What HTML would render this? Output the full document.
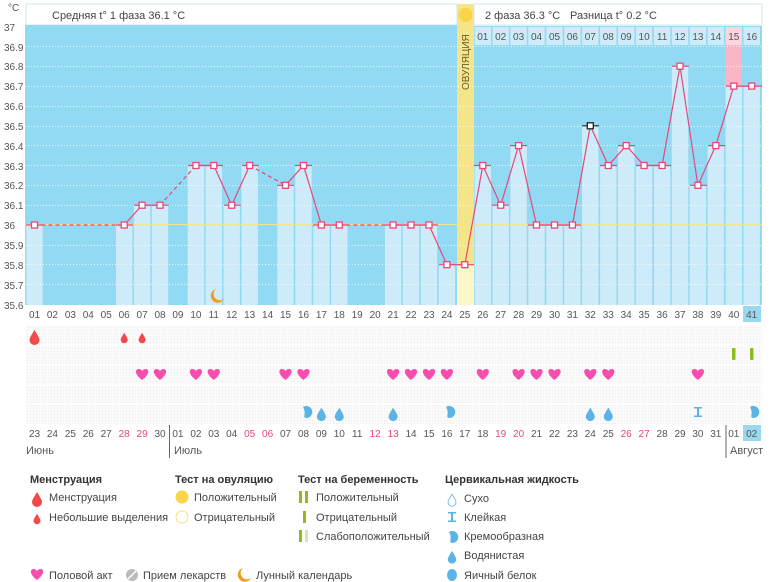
<!DOCTYPE html>
<html><head><meta charset="utf-8"><style>
body{margin:0;background:#fff;width:770px;height:582px;overflow:hidden}
svg{display:block;font-family:"Liberation Sans","DejaVu Sans",sans-serif}
.yl{font-size:10px;fill:#555}
.dn{font-size:10px;fill:#555;text-anchor:middle}
.rd{fill:#e8477a}
.lh{font-size:11px;font-weight:bold;fill:#333}
.li{font-size:11px;fill:#444}
</style></head><body>
<svg width="770" height="582" viewBox="0 0 770 582">
<defs>
<pattern id="dots" width="3" height="3" patternUnits="userSpaceOnUse"><rect width="3" height="3" fill="#fafafa"/><rect width="1" height="1" fill="#ececec"/></pattern>
<path id="drop" d="M0,-6 C3,-1 5,2 5,4 A5,5 0 0 1 -5,4 C-5,2 -3,-1 0,-6Z"/>
<path id="heart" d="M0,5 C-8,-1 -7,-6 -3.5,-6 C-1.5,-6 0,-4.5 0,-3.5 C0,-4.5 1.5,-6 3.5,-6 C7,-6 8,-1 0,5Z"/>
</defs>
<!-- y axis -->
<text x="8" y="11" class="yl" font-size="11">°C</text>
<g class="yl">
<text x="4" y="31">37</text><text x="4" y="51">36.9</text><text x="4" y="70">36.8</text><text x="4" y="90">36.7</text><text x="4" y="110">36.6</text><text x="4" y="130">36.5</text><text x="4" y="150">36.4</text><text x="4" y="170">36.3</text><text x="4" y="189">36.2</text><text x="4" y="209">36.1</text><text x="4" y="229">36</text><text x="4" y="249">35.9</text><text x="4" y="269">35.8</text><text x="4" y="289">35.7</text><text x="4" y="309">35.6</text>
</g>
<!-- headers -->
<rect x="26" y="4" width="431" height="21" fill="#fff" stroke="#cde9f5"/>
<text x="52" y="19" font-size="11" fill="#444">Средняя t° 1 фаза 36.1 °C</text>
<rect x="474" y="4" width="288" height="21" fill="#fff" stroke="#cde9f5"/>
<text x="485" y="19" font-size="11" fill="#444">2 фаза 36.3 °C</text>
<text x="570" y="19" font-size="11" fill="#444">Разница t° 0.2 °C</text>
<!-- chart bg -->
<rect x="25" y="25" width="432" height="280" fill="#92d9f3"/>
<rect x="474" y="26" width="288" height="279" fill="#92d9f3"/>
<!-- light bars -->
<g fill="#cdebf9">
<rect x="26.3" y="225" width="16.4" height="80"/>
<rect x="116" y="225" width="16.4" height="80"/>
<rect x="133.9" y="205" width="16.4" height="100"/>
<rect x="151.8" y="205" width="16.4" height="100"/>
<rect x="187.7" y="165" width="16.4" height="140"/>
<rect x="205.6" y="165" width="16.4" height="140"/>
<rect x="223.5" y="205" width="16.4" height="100"/>
<rect x="241.5" y="165" width="16.4" height="140"/>
<rect x="277.3" y="185" width="16.4" height="120"/>
<rect x="295.3" y="165" width="16.4" height="140"/>
<rect x="313.2" y="225" width="16.4" height="80"/>
<rect x="331.1" y="225" width="16.4" height="80"/>
<rect x="384.9" y="225" width="16.4" height="80"/>
<rect x="402.8" y="225" width="16.4" height="80"/>
<rect x="420.8" y="225" width="16.4" height="80"/>
<rect x="438.7" y="265" width="16.4" height="40"/>
<rect x="474.6" y="165" width="16.4" height="140"/>
<rect x="492.5" y="205" width="16.4" height="100"/>
<rect x="510.4" y="145" width="16.4" height="160"/>
<rect x="528.3" y="225" width="16.4" height="80"/>
<rect x="546.3" y="225" width="16.4" height="80"/>
<rect x="564.2" y="225" width="16.4" height="80"/>
<rect x="582.1" y="125" width="16.4" height="180"/>
<rect x="600.1" y="165" width="16.4" height="140"/>
<rect x="618" y="145" width="16.4" height="160"/>
<rect x="635.9" y="165" width="16.4" height="140"/>
<rect x="653.9" y="165" width="16.4" height="140"/>
<rect x="671.8" y="66" width="16.4" height="239"/>
<rect x="689.7" y="185" width="16.4" height="120"/>
<rect x="707.6" y="145" width="16.4" height="160"/>
<rect x="725.6" y="86" width="16.4" height="219"/>
<rect x="743.5" y="86" width="16.4" height="219"/>
</g>
<rect x="725.6" y="45" width="16.4" height="41" fill="#f9b6c7"/>
<!-- right day header -->
<rect x="474" y="26" width="288" height="19" fill="#92d9f3"/>
<g fill="#cdebf9">
<rect x="474.6" y="27" width="16.4" height="18"/><rect x="492.5" y="27" width="16.4" height="18"/><rect x="510.4" y="27" width="16.4" height="18"/><rect x="528.3" y="27" width="16.4" height="18"/><rect x="546.3" y="27" width="16.4" height="18"/><rect x="564.2" y="27" width="16.4" height="18"/><rect x="582.1" y="27" width="16.4" height="18"/><rect x="600.1" y="27" width="16.4" height="18"/><rect x="618" y="27" width="16.4" height="18"/><rect x="635.9" y="27" width="16.4" height="18"/><rect x="653.9" y="27" width="16.4" height="18"/><rect x="671.8" y="27" width="16.4" height="18"/><rect x="689.7" y="27" width="16.4" height="18"/><rect x="707.6" y="27" width="16.4" height="18"/><rect x="743.5" y="27" width="16.4" height="18"/>
</g>
<rect x="725.6" y="27" width="16.4" height="18" fill="#fcd5de"/>
<g class="dn" font-size="9.5">
<text x="482.8" y="40">01</text><text x="500.7" y="40">02</text><text x="518.6" y="40">03</text><text x="536.5" y="40">04</text><text x="554.5" y="40">05</text><text x="572.4" y="40">06</text><text x="590.3" y="40">07</text><text x="608.3" y="40">08</text><text x="626.2" y="40">09</text><text x="644.1" y="40">10</text><text x="662.1" y="40">11</text><text x="680" y="40">12</text><text x="697.9" y="40">13</text><text x="715.8" y="40">14</text><text x="733.8" y="40">15</text><text x="751.7" y="40">16</text>
</g>
<!-- ovulation column -->
<rect x="457" y="4" width="17" height="301" fill="#f5e58a"/>
<rect x="457" y="265" width="17" height="40" fill="#fdf6c8"/>
<circle cx="465.5" cy="15" r="7" fill="#fbd44a"/>
<text transform="translate(469,90) rotate(-90)" font-size="10" fill="#6a5a2a">ОВУЛЯЦИЯ</text>
<!-- grid -->
<g stroke="#fff" stroke-width="1" stroke-dasharray="1,2" opacity="0.8">
<line x1="25" y1="46.5" x2="762" y2="46.5"/><line x1="25" y1="66.5" x2="762" y2="66.5"/><line x1="25" y1="86.5" x2="762" y2="86.5"/><line x1="25" y1="106.5" x2="762" y2="106.5"/><line x1="25" y1="126.5" x2="762" y2="126.5"/><line x1="25" y1="145.5" x2="762" y2="145.5"/><line x1="25" y1="165.5" x2="762" y2="165.5"/><line x1="25" y1="185.5" x2="762" y2="185.5"/><line x1="25" y1="205.5" x2="762" y2="205.5"/><line x1="25" y1="245.5" x2="762" y2="245.5"/><line x1="25" y1="264.5" x2="762" y2="264.5"/><line x1="25" y1="284.5" x2="762" y2="284.5"/>
</g>
<line x1="25" y1="224.5" x2="762" y2="224.5" stroke="#f5e58a" stroke-width="1.2"/>
<!-- temp lines -->
<g fill="none" stroke="#e8477a" stroke-width="1.2">
<polyline points="124.2,225 142.1,205.2 160,205.2"/>
<polyline points="195.9,165.5 213.8,165.5 231.7,205.2 249.7,165.5"/>
<polyline points="285.5,185.3 303.5,165.5 321.4,225 339.3,225"/>
<polyline points="393.1,225 411,225 429,225 446.9,264.7 464.8,264.7 482.8,165.5 500.7,205.2 518.6,145.6 536.5,225 554.5,225 572.4,225 590.3,125.8 608.3,165.5 626.2,145.6 644.1,165.5 662.1,165.5 680,66.2 697.9,185.3 715.8,145.6 733.8,86.1 751.7,86.1"/>
<g stroke-dasharray="4,3">
<line x1="34.5" y1="225" x2="124.2" y2="225"/>
<line x1="160" y1="205.2" x2="195.9" y2="165.5"/>
<line x1="249.7" y1="165.5" x2="285.5" y2="185.3"/>
<line x1="339.3" y1="225" x2="393.1" y2="225"/>
</g>
</g>
<!-- markers -->
<g stroke="#e8477a" stroke-width="1.2">
<line x1="26" y1="225" x2="43" y2="225"/><line x1="116" y1="225" x2="133" y2="225"/><line x1="134" y1="205.2" x2="151" y2="205.2"/><line x1="152" y1="205.2" x2="169" y2="205.2"/><line x1="188" y1="165.5" x2="205" y2="165.5"/><line x1="206" y1="165.5" x2="223" y2="165.5"/><line x1="224" y1="205.2" x2="241" y2="205.2"/><line x1="242" y1="165.5" x2="259" y2="165.5"/><line x1="277" y1="185.3" x2="294" y2="185.3"/><line x1="295" y1="165.5" x2="312" y2="165.5"/><line x1="313" y1="225" x2="330" y2="225"/><line x1="331" y1="225" x2="348" y2="225"/><line x1="385" y1="225" x2="402" y2="225"/><line x1="403" y1="225" x2="420" y2="225"/><line x1="421" y1="225" x2="438" y2="225"/><line x1="439" y1="264.7" x2="456" y2="264.7"/><line x1="457" y1="264.7" x2="474" y2="264.7"/><line x1="474" y1="165.5" x2="491" y2="165.5"/><line x1="492" y1="205.2" x2="509" y2="205.2"/><line x1="510" y1="145.6" x2="527" y2="145.6"/><line x1="528" y1="225" x2="545" y2="225"/><line x1="546" y1="225" x2="563" y2="225"/><line x1="564" y1="225" x2="581" y2="225"/><line x1="600" y1="165.5" x2="617" y2="165.5"/><line x1="618" y1="145.6" x2="635" y2="145.6"/><line x1="636" y1="165.5" x2="653" y2="165.5"/><line x1="654" y1="165.5" x2="671" y2="165.5"/><line x1="672" y1="66.2" x2="689" y2="66.2"/><line x1="690" y1="185.3" x2="707" y2="185.3"/><line x1="708" y1="145.6" x2="725" y2="145.6"/><line x1="726" y1="86.1" x2="762" y2="86.1"/>
<line x1="582" y1="125.8" x2="599" y2="125.8" stroke="#222"/>
</g>
<g fill="#fff" stroke="#e8477a" stroke-width="1.3">
<rect x="31.5" y="222" width="6" height="6"/><rect x="121.2" y="222" width="6" height="6"/><rect x="139.1" y="202.2" width="6" height="6"/><rect x="157" y="202.2" width="6" height="6"/><rect x="192.9" y="162.5" width="6" height="6"/><rect x="210.8" y="162.5" width="6" height="6"/><rect x="228.7" y="202.2" width="6" height="6"/><rect x="246.7" y="162.5" width="6" height="6"/><rect x="282.5" y="182.3" width="6" height="6"/><rect x="300.5" y="162.5" width="6" height="6"/><rect x="318.4" y="222" width="6" height="6"/><rect x="336.3" y="222" width="6" height="6"/><rect x="390.1" y="222" width="6" height="6"/><rect x="408" y="222" width="6" height="6"/><rect x="426" y="222" width="6" height="6"/><rect x="443.9" y="261.7" width="6" height="6"/><rect x="461.8" y="261.7" width="6" height="6"/><rect x="479.8" y="162.5" width="6" height="6"/><rect x="497.7" y="202.2" width="6" height="6"/><rect x="515.6" y="142.6" width="6" height="6"/><rect x="533.5" y="222" width="6" height="6"/><rect x="551.5" y="222" width="6" height="6"/><rect x="569.4" y="222" width="6" height="6"/><rect x="605.3" y="162.5" width="6" height="6"/><rect x="623.2" y="142.6" width="6" height="6"/><rect x="641.1" y="162.5" width="6" height="6"/><rect x="659.1" y="162.5" width="6" height="6"/><rect x="677" y="63.2" width="6" height="6"/><rect x="694.9" y="182.3" width="6" height="6"/><rect x="712.8" y="142.6" width="6" height="6"/><rect x="730.8" y="83.1" width="6" height="6"/><rect x="748.7" y="83.1" width="6" height="6"/>
<rect x="587.3" y="122.8" width="6" height="6" stroke="#222"/>
</g>
<!-- moon -->
<path d="M216,289 A7,7 0 1 0 224,299 A6,6 0 0 1 216,289Z" fill="#f39a1c"/>
<!-- bottom day numbers -->
<rect x="743" y="306" width="18" height="16" fill="#9ad8f1"/>
<g class="dn">
<text x="34.5" y="318">01</text><text x="52.4" y="318">02</text><text x="70.4" y="318">03</text><text x="88.3" y="318">04</text><text x="106.2" y="318">05</text><text x="124.2" y="318">06</text><text x="142.1" y="318">07</text><text x="160" y="318">08</text><text x="177.9" y="318">09</text><text x="195.9" y="318">10</text><text x="213.8" y="318">11</text><text x="231.7" y="318">12</text><text x="249.7" y="318">13</text><text x="267.6" y="318">14</text><text x="285.5" y="318">15</text><text x="303.5" y="318">16</text><text x="321.4" y="318">17</text><text x="339.3" y="318">18</text><text x="357.2" y="318">19</text><text x="375.2" y="318">20</text><text x="393.1" y="318">21</text><text x="411" y="318">22</text><text x="429" y="318">23</text><text x="446.9" y="318">24</text><text x="464.8" y="318">25</text><text x="482.8" y="318">26</text><text x="500.7" y="318">27</text><text x="518.6" y="318">28</text><text x="536.5" y="318">29</text><text x="554.5" y="318">30</text><text x="572.4" y="318">31</text><text x="590.3" y="318">32</text><text x="608.3" y="318">33</text><text x="626.2" y="318">34</text><text x="644.1" y="318">35</text><text x="662.1" y="318">36</text><text x="680" y="318">37</text><text x="697.9" y="318">38</text><text x="715.8" y="318">39</text><text x="733.8" y="318">40</text><text x="751.7" y="318">41</text>
</g>
<!-- symbol grid -->
<rect x="26" y="326" width="736" height="98" fill="url(#dots)"/>
<g stroke="#fff" stroke-width="1.5">
<line x1="26" y1="345" x2="762" y2="345"/><line x1="26" y1="365" x2="762" y2="365"/><line x1="26" y1="385" x2="762" y2="385"/><line x1="26" y1="404" x2="762" y2="404"/>
</g>
<use href="#drop" transform="translate(34.5,336)" fill="#f24a4a"/>
<use href="#drop" transform="translate(124.2,337) scale(0.7)" fill="#f24a4a"/>
<use href="#drop" transform="translate(142.1,337) scale(0.7)" fill="#f24a4a"/>
<rect x="732" y="348" width="3.5" height="12" rx="1" fill="#8cbc1e"/>
<rect x="750" y="348" width="3.5" height="12" rx="1" fill="#8cbc1e"/>
<g fill="#f74eae">
<use href="#heart" x="142.1" y="375"/><use href="#heart" x="160" y="375"/><use href="#heart" x="195.9" y="375"/><use href="#heart" x="213.8" y="375"/><use href="#heart" x="285.5" y="375"/><use href="#heart" x="303.5" y="375"/><use href="#heart" x="393.1" y="375"/><use href="#heart" x="411" y="375"/><use href="#heart" x="429" y="375"/><use href="#heart" x="446.9" y="375"/><use href="#heart" x="482.8" y="375"/><use href="#heart" x="518.6" y="375"/><use href="#heart" x="536.5" y="375"/><use href="#heart" x="554.5" y="375"/><use href="#heart" x="590.3" y="375"/><use href="#heart" x="608.3" y="375"/><use href="#heart" x="697.9" y="375"/>
</g>
<g fill="#5cb3e6">
<use href="#drop" transform="translate(321.4,413) scale(0.9)"/><use href="#drop" transform="translate(339.3,413) scale(0.9)"/><use href="#drop" transform="translate(393.1,413) scale(0.9)"/><use href="#drop" transform="translate(590.3,413) scale(0.9)"/><use href="#drop" transform="translate(608.3,413) scale(0.9)"/>
<path d="M303,407 A6,6 0 1 1 306,418 C302,417 307,414 303,407Z"/>
<path d="M446,407 A6,6 0 1 1 449,418 C445,417 450,414 446,407Z"/>
<path d="M750,407 A6,6 0 1 1 753,418 C749,417 754,414 750,407Z"/>
<path d="M694,407 h8 v1.5 h-3 l0,7 h3 v1.5 h-8 v-1.5 h3 v-7 h-3Z"/>
</g>
<!-- dates row -->
<rect x="743" y="425" width="18" height="16" fill="#9ad8f1"/>
<g class="dn">
<text x="34.5" y="437">23</text><text x="52.4" y="437">24</text><text x="70.4" y="437">25</text><text x="88.3" y="437">26</text><text x="106.2" y="437">27</text><text x="124.2" y="437" class="dn rd">28</text><text x="142.1" y="437" class="dn rd">29</text><text x="160" y="437">30</text><text x="177.9" y="437">01</text><text x="195.9" y="437">02</text><text x="213.8" y="437">03</text><text x="231.7" y="437">04</text><text x="249.7" y="437" class="dn rd">05</text><text x="267.6" y="437" class="dn rd">06</text><text x="285.5" y="437">07</text><text x="303.5" y="437">08</text><text x="321.4" y="437">09</text><text x="339.3" y="437">10</text><text x="357.2" y="437">11</text><text x="375.2" y="437" class="dn rd">12</text><text x="393.1" y="437" class="dn rd">13</text><text x="411" y="437">14</text><text x="429" y="437">15</text><text x="446.9" y="437">16</text><text x="464.8" y="437">17</text><text x="482.8" y="437">18</text><text x="500.7" y="437" class="dn rd">19</text><text x="518.6" y="437" class="dn rd">20</text><text x="536.5" y="437">21</text><text x="554.5" y="437">22</text><text x="572.4" y="437">23</text><text x="590.3" y="437">24</text><text x="608.3" y="437">25</text><text x="626.2" y="437" class="dn rd">26</text><text x="644.1" y="437" class="dn rd">27</text><text x="662.1" y="437">28</text><text x="680" y="437">29</text><text x="697.9" y="437">30</text><text x="715.8" y="437">31</text><text x="733.8" y="437">01</text><text x="751.7" y="437">02</text>
</g>
<line x1="169.5" y1="425" x2="169.5" y2="458" stroke="#666"/>
<line x1="726" y1="425" x2="726" y2="458" stroke="#666"/>
<text x="26" y="454" font-size="11" fill="#555">Июнь</text>
<text x="174" y="454" font-size="11" fill="#555">Июль</text>
<text x="730" y="454" font-size="11" fill="#555">Август</text>
<!-- legend -->
<text x="30" y="483" class="lh">Менструация</text>
<use href="#drop" transform="translate(37,498)" fill="#f24a4a"/>
<text x="49" y="501" class="li">Менструация</text>
<use href="#drop" transform="translate(37,518) scale(0.7)" fill="#f24a4a"/>
<text x="49" y="521" class="li">Небольшие выделения</text>
<text x="175" y="483" class="lh">Тест на овуляцию</text>
<circle cx="182" cy="497" r="6.5" fill="#fbd44a"/>
<text x="194" y="501" class="li">Положительный</text>
<circle cx="182" cy="517" r="6" fill="#fff" stroke="#fbe27a"/>
<text x="194" y="521" class="li">Отрицательный</text>
<text x="298" y="483" class="lh">Тест на беременность</text>
<rect x="299" y="491" width="3" height="12" fill="#8cbc1e"/><rect x="305" y="491" width="3" height="12" fill="#8cbc1e"/>
<text x="316" y="501" class="li">Положительный</text>
<rect x="303" y="511" width="3" height="12" fill="#8cbc1e"/>
<text x="316" y="521" class="li">Отрицательный</text>
<rect x="299" y="530" width="3" height="12" fill="#8cbc1e"/><rect x="305" y="530" width="3" height="12" fill="#d6e8a8"/>
<text x="316" y="540" class="li">Слабоположительный</text>
<text x="445" y="483" class="lh">Цервикальная жидкость</text>
<use href="#drop" transform="translate(452,499) scale(0.8)" fill="#fff" stroke="#5cb3e6"/>
<text x="464" y="502" class="li">Сухо</text>
<path d="M448,512 h8 v1.5 h-3 v7 h3 v1.5 h-8 v-1.5 h3 v-7 h-3Z" fill="#5cb3e6"/>
<text x="464" y="521" class="li">Клейкая</text>
<path d="M449,532 A6,6 0 1 1 452,543 C448,542 453,539 449,532Z" fill="#5cb3e6"/>
<text x="464" y="540" class="li">Кремообразная</text>
<use href="#drop" transform="translate(452,556) scale(0.85)" fill="#5cb3e6"/>
<text x="464" y="559" class="li">Водянистая</text>
<ellipse cx="452" cy="575" rx="5" ry="6" fill="#5cb3e6"/>
<text x="464" y="579" class="li">Яичный белок</text>
<use href="#heart" x="37" y="575" fill="#f74eae"/>
<text x="49" y="579" class="li">Половой акт</text>
<circle cx="132" cy="575" r="6" fill="#bbb"/><line x1="128" y1="579" x2="136" y2="571" stroke="#fff" stroke-width="1.5"/>
<text x="143" y="579" class="li">Прием лекарств</text>
<path d="M243,568 A7,7 0 1 0 251,578 A6,6 0 0 1 243,568Z" fill="#f39a1c"/>
<text x="256" y="579" class="li">Лунный календарь</text>
</svg>
</body></html>
